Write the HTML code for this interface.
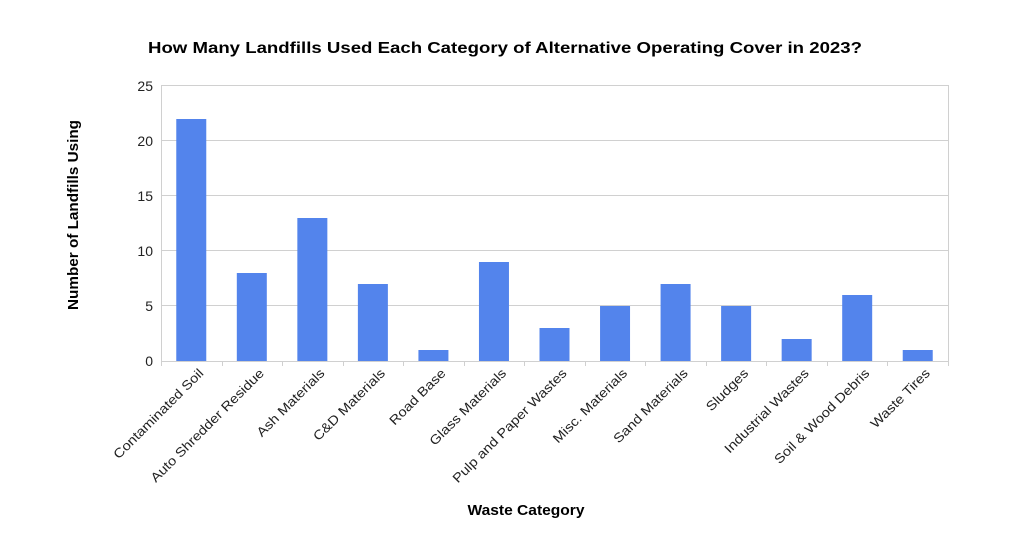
<!DOCTYPE html>
<html><head><style>body{margin:0;background:#fff}svg{display:block}</style></head><body>
<svg width="1030" height="557" xmlns="http://www.w3.org/2000/svg" font-family="Liberation Sans, Arial, sans-serif">
<rect width="1030" height="557" fill="#fff"/>
<text x="505" y="53" text-anchor="middle" font-size="15.5" font-weight="bold" fill="#000" textLength="714" lengthAdjust="spacingAndGlyphs">How Many Landfills Used Each Category of Alternative Operating Cover in 2023?</text>
<g stroke="#d0d0d0" stroke-width="1">
<line x1="161" y1="85.5" x2="948" y2="85.5"/>
<line x1="161" y1="140.5" x2="948" y2="140.5"/>
<line x1="161" y1="195.5" x2="948" y2="195.5"/>
<line x1="161" y1="250.5" x2="948" y2="250.5"/>
<line x1="161" y1="305.5" x2="948" y2="305.5"/>
<line x1="161" y1="361.5" x2="948" y2="361.5"/>
<line x1="161.5" y1="85" x2="161.5" y2="366"/>
<line x1="948.5" y1="85" x2="948.5" y2="366"/>
</g>
<g font-size="14" fill="#222" text-anchor="end">
<text x="153" y="91">25</text><text x="153" y="146">20</text><text x="153" y="201">15</text><text x="153" y="256">10</text><text x="153" y="311">5</text><text x="153" y="366">0</text>
</g>
<g fill="#5384ec" id="bars"></g>
<g id="ticks" stroke="#d0d0d0"></g>
<g id="labels" font-size="13" fill="#222"></g>
<text x="526" y="515" text-anchor="middle" font-size="14.5" font-weight="bold" textLength="117" lengthAdjust="spacingAndGlyphs">Waste Category</text>
<text transform="translate(78,215) rotate(-90)" text-anchor="middle" font-size="14.5" font-weight="bold" textLength="190" lengthAdjust="spacingAndGlyphs">Number of Landfills Using</text>
<script>
var d=[["Contaminated Soil",22],["Auto Shredder Residue",8],["Ash Materials",13],["C&D Materials",7],["Road Base",1],["Glass Materials",9],["Pulp and Paper Wastes",3],["Misc. Materials",5],["Sand Materials",7],["Sludges",5],["Industrial Wastes",2],["Soil & Wood Debris",6],["Waste Tires",1]];
var ns="http://www.w3.org/2000/svg",w=787/13,b=document.getElementById('bars'),t=document.getElementById('ticks'),l=document.getElementById('labels');
for(var i=0;i<=13;i++){var x=Math.round(161+i*w)+.5;var ln=document.createElementNS(ns,'line');ln.setAttribute('x1',x);ln.setAttribute('x2',x);ln.setAttribute('y1',361);ln.setAttribute('y2',366);t.appendChild(ln);}
d.forEach(function(e,i){var c=161+(i+.5)*w,h=e[1]*11;var r=document.createElementNS(ns,'rect');r.setAttribute('x',c-15);r.setAttribute('y',361-h);r.setAttribute('width',30);r.setAttribute('height',h);b.appendChild(r);
var tx=document.createElementNS(ns,'text');tx.setAttribute('text-anchor','end');tx.setAttribute('transform','translate('+(c+13)+',374) rotate(-45)');tx.textContent=e[0];l.appendChild(tx);
var len=tx.getComputedTextLength();tx.setAttribute('textLength',(len*1.14).toFixed(1));tx.setAttribute('lengthAdjust','spacingAndGlyphs');});
</script>
</svg>
</body></html>
